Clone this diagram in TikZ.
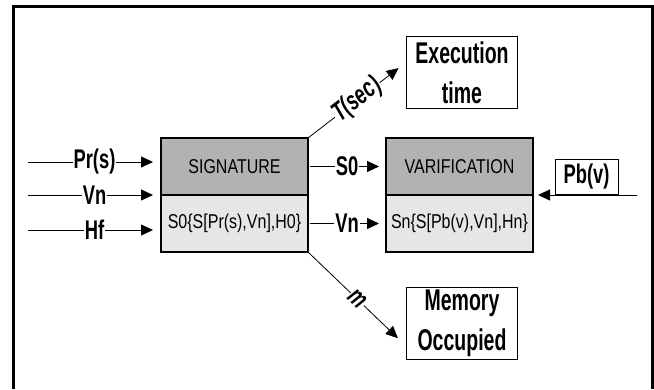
\documentclass[tikz,border=0pt]{standalone}
\usepackage{fontspec}
\setmainfont{Liberation Sans}
\newfontfamily\boxfont[FakeStretch=0.8]{Liberation Sans}
\newfontfamily\lblfont[FakeStretch=0.68]{Liberation Sans}
\newfontfamily\resfont[FakeStretch=0.65]{Liberation Sans}
\usetikzlibrary{positioning, arrows.meta}
\definecolor{topgray}{RGB}{178,178,178}
\definecolor{lowgray}{RGB}{230,230,230}
\tikzstyle{upper} = [rectangle, minimum width=147pt, minimum height=57pt, text centered, draw=black, line width=1.2pt, fill=topgray, inner sep=0pt, outer sep=0pt, font=\boxfont\fontsize{20}{22}\selectfont]
\tikzstyle{lower} = [upper, fill=lowgray]
\tikzstyle{result} = [rectangle, minimum width=111pt, minimum height=72pt, align=center, draw=black, line width=1pt, inner sep=0pt, outer sep=0pt, font=\resfont\bfseries\fontsize{30}{40}\selectfont]
\tikzstyle{arrow} = [line width=0.8pt, -{Triangle[length=12pt,width=11pt]}]
\tikzstyle{lbl} = [fill=white, inner sep=1pt, font=\lblfont\bfseries\fontsize{27}{30}\selectfont]
\tikzstyle{slantlbl} = [lbl, sloped, font=\lblfont\bfseries\itshape\fontsize{27}{30}\selectfont]

\begin{document}
\begin{tikzpicture}[x=1pt, y=1pt]
    \useasboundingbox (0,0) rectangle (654,389);
    \draw[line width=3pt] (13,0) -- (13,382) -- (652,382) -- (652,0);

    \node (sigtop) [upper] at (234.5,222.5) {SIGNATURE};
    \node (sigbot) [lower, below=0pt of sigtop] {S0\{S[Pr(s),Vn],H0\}};
    \node (vertop) [upper, right=78pt of sigtop] {VARIFICATION};
    \node (verbot) [lower, below=0pt of vertop] {Sn\{S[Pb(v),Vn],Hn\}};
    \node (exec) [result] at (462,316) {Execution\\time};
    \node (mem) [result] at (462,65.5) {Memory\\Occupied};
    \node (pbv) [draw, line width=0.8pt, minimum width=63pt, minimum height=35pt, inner sep=0pt, font=\lblfont\bfseries\fontsize{27}{30}\selectfont] at (586.5,212.5) {Pb(v)};

    \coordinate (inpr) at (28,227);
    \coordinate (invn) at (28,194);
    \coordinate (inhf) at (28,159);
    \coordinate (pbin) at (637,194);

    \draw [arrow, shorten >=8pt] (inpr) -- node[lbl] {Pr(s)} (inpr -| sigtop.west);
    \draw [arrow, shorten >=8pt] (invn) -- node[lbl] {Vn} (invn -| sigtop.west);
    \draw [arrow, shorten >=8pt] (inhf) -- node[lbl] {Hf} (inhf -| sigbot.west);
    \draw [arrow, shorten <=2pt, shorten >=7pt] (sigtop.east) -- node[lbl] {S0} (vertop.west);
    \draw [arrow, shorten <=2pt, shorten >=7pt] (sigbot.east) -- node[lbl] {Vn} (verbot.west);
    \draw [arrow, shorten >=5pt] (pbin) -- (pbin -| vertop.east);
    \draw [arrow, shorten >=10pt] (sigtop.north east) -- node[slantlbl] {T(sec)} ([yshift=11pt]exec.west);
    \draw [arrow, shorten >=12pt] (sigbot.south east) -- node[slantlbl] {m} ([yshift=-23pt]mem.west);
\end{tikzpicture}
\end{document}
